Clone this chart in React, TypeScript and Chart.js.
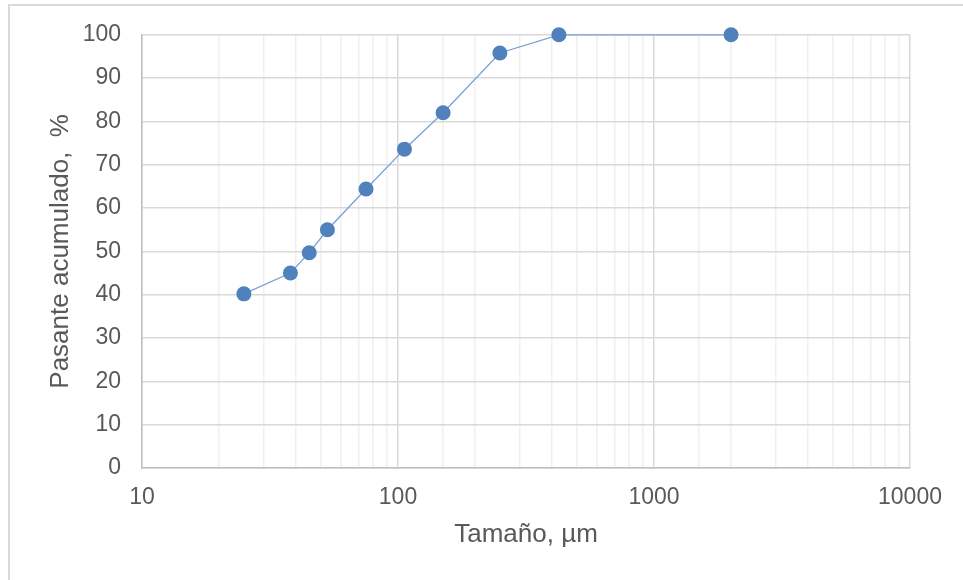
import React, { useEffect, useRef } from "react";
import { Chart, registerables } from "chart.js";

Chart.register(...registerables);

const sizes = [25, 38, 45, 53, 75, 106, 150, 250, 425, 2000];
const passing = [40.2, 45.0, 49.7, 55.0, 64.4, 73.6, 82.0, 95.8, 100, 100];
const xTickLabels = [10, 100, 1000, 10000];
const xTitle = "Tamaño, µm";
const yTitle = "Pasante acumulado,  %";

const isMajor = (v: number) => xTickLabels.includes(Math.round(v));

export default function App() {
  const ref = useRef<HTMLCanvasElement | null>(null);
  useEffect(() => {
    if (!ref.current) return;
    const font = "'Liberation Sans', Arial, sans-serif";
    const chart = new Chart(ref.current, {
      type: "scatter",
      data: {
        datasets: [
          {
            data: sizes.map((s, i) => ({ x: s, y: passing[i] })),
            showLine: true,
            clip: false,
            borderColor: "#7aa0d4",
            borderWidth: 1.3,
            pointRadius: 7.5,
            pointBackgroundColor: "#4f81bd",
            pointBorderColor: "#4f81bd",
            pointBorderWidth: 0,
          },
        ],
      },
      options: {
        responsive: false,
        animation: false,
        devicePixelRatio: 1,
        layout: { padding: { left: 0, top: 34, right: 53, bottom: 0 } },
        plugins: { legend: { display: false }, tooltip: { enabled: false } },
        scales: {
          x: {
            type: "logarithmic",
            min: 10,
            max: 10000,
            afterFit: (s: any) => {
              s.height = 580 - 468;
            },
            grid: {
              drawTicks: false,
              color: (c: any) => (c.tick && isMajor(c.tick.value) ? "#d9d9d9" : "#efefef"),
              lineWidth: 1.5,
            },
            border: { color: "#bfbfbf", width: 1.5 },
            ticks: {
              autoSkip: false,
              maxRotation: 0,
              padding: 16,
              color: "#595959",
              font: { family: font, size: 23 },
              callback: (v: any) => (isMajor(Number(v)) ? String(Math.round(Number(v))) : ""),
            },
            title: {
              display: true,
              text: xTitle,
              color: "#595959",
              font: { family: font, size: 26 },
              padding: { top: 0, bottom: 30 },
            },
          },
          y: {
            min: 0,
            max: 100,
            afterFit: (s: any) => {
              s.width = 142;
            },
            grid: { drawTicks: false, color: "#d9d9d9", lineWidth: 1.5 },
            border: { color: "#bfbfbf", width: 1.5 },
            ticks: {
              stepSize: 10,
              padding: 21,
              color: "#595959",
              font: { family: font, size: 23 },
            },
            title: {
              display: true,
              text: yTitle,
              color: "#595959",
              font: { family: font, size: 26 },
              padding: { top: 45, bottom: 0 },
            },
          },
        },
      },
    });
    return () => chart.destroy();
  }, []);
  return (
    <div>
      <div
        style={{
          position: "fixed",
          left: 8,
          top: 4,
          width: 1000,
          height: 1000,
          borderTop: "2px solid #d9d9d9",
          borderLeft: "2px solid #d9d9d9",
          boxSizing: "border-box",
        }}
      />
      <canvas
        ref={ref}
        width={963}
        height={580}
        style={{ position: "fixed", left: 0, top: 0, width: 963, height: 580 }}
      />
    </div>
  );
}
